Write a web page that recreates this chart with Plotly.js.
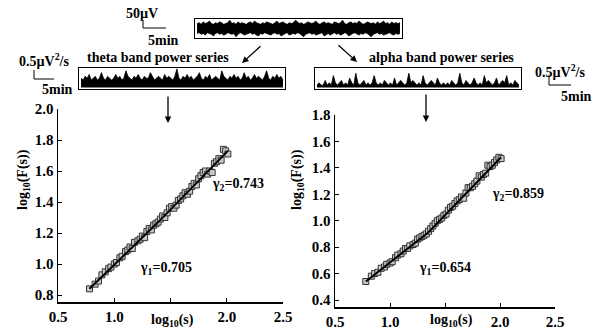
<!DOCTYPE html>
<html><head><meta charset="utf-8">
<script src="https://cdn.plot.ly/plotly-3.0.1.min.js"></script>
<style>html,body{margin:0;padding:0;background:#fff}#c{width:608px;height:328px}</style>
</head><body><div id="c"></div>
<script>
// ---- DFA data (theta band) ----
const thetaX = [0.78,0.83,0.86,0.89,0.92,0.95,0.97,1.00,1.02,1.05,1.07,1.10,1.12,1.14,1.16,1.18,1.21,1.23,1.25,1.27,1.29,1.31,1.33,1.35,1.37,1.39,1.41,1.43,1.45,1.47,1.49,1.51,1.53,1.55,1.57,1.59,1.61,1.63,1.65,1.67,1.69,1.71,1.73,1.75,1.77,1.79,1.81,1.83,1.85,1.87,1.89,1.91,1.93,1.95,1.97,1.99,2.01];
const thetaY = [0.84,0.87,0.89,0.93,0.95,0.97,0.98,1.00,1.01,1.04,1.05,1.08,1.09,1.11,1.10,1.14,1.15,1.16,1.18,1.17,1.21,1.23,1.22,1.25,1.26,1.27,1.29,1.31,1.30,1.33,1.36,1.37,1.36,1.38,1.41,1.42,1.44,1.46,1.45,1.47,1.50,1.52,1.51,1.55,1.57,1.59,1.60,1.58,1.60,1.59,1.65,1.66,1.68,1.67,1.74,1.73,1.71];
const thetaFit1X = [0.78,1.40], thetaFit1Y = [0.84,1.277];
const thetaFit2X = [1.40,2.01], thetaFit2Y = [1.277,1.73];
// ---- DFA data (alpha band) ----
const alphaX = thetaX;
const alphaY = [0.54,0.58,0.60,0.61,0.64,0.65,0.67,0.68,0.69,0.72,0.74,0.75,0.77,0.79,0.79,0.81,0.82,0.83,0.86,0.87,0.88,0.89,0.90,0.92,0.94,0.96,0.98,1.00,1.01,1.02,1.04,1.05,1.08,1.10,1.11,1.13,1.15,1.16,1.18,1.17,1.21,1.25,1.25,1.26,1.28,1.30,1.34,1.33,1.35,1.36,1.42,1.41,1.42,1.44,1.46,1.48,1.47];
const alphaFit1X = [0.78,1.35], alphaFit1Y = [0.54,0.913];
const alphaFit2X = [1.35,2.01], alphaFit2Y = [0.913,1.48];
// ---- signal envelopes ----
const rawUpper = [6,7,5,8,6,7,9,6,5,7,6,8,7,5,6,7,10,6,7,5,8,6,7,6,5,7,8,6,9,7,6,5,7,6,8,7,6,5,7,9,6,7,8,6,5,7,6,7,10,8,6,7,5,6,8,7,6,7,9,6,5,7,8,6,7,6,5,8,7,6,7,10,6,5,7,8,6,7,6,9,7,5,6,8,7,6,7,5,8,6,7,9,6,7,5,8,6,7,6,7];
const rawLower = [-6,-5,-7,-6,-8,-5,-6,-7,-9,-6,-5,-7,-6,-8,-7,-5,-6,-7,-6,-10,-7,-5,-6,-8,-7,-6,-5,-7,-6,-8,-9,-6,-7,-5,-6,-7,-8,-6,-5,-7,-6,-9,-7,-6,-5,-8,-7,-6,-7,-5,-6,-8,-10,-7,-6,-5,-7,-6,-8,-7,-6,-5,-9,-7,-6,-8,-6,-5,-7,-6,-8,-7,-5,-6,-9,-7,-6,-5,-7,-8,-6,-7,-5,-6,-8,-10,-7,-6,-5,-7,-6,-8,-7,-6,-5,-7,-8,-6,-7,-6];
const thetaEnv = [5,4,6,5,7,4,5,6,4,5,8,5,4,6,5,4,5,7,5,6,4,5,9,6,5,4,6,5,7,5,4,6,5,5,8,6,4,5,6,5,4,7,5,6,5,4,6,10,5,4,6,5,7,5,6,4,5,6,8,5,4,6,5,7,4,5,6,5,4,9,6,5,4,6,5,7,5,6,4,5,8,5,6,4,5,7,5,6,5,4,6,9,5,4,6,5,7,5,6,4];
const alphaEnv = [1,2,1,1,3,1,2,1,5,2,1,2,3,1,2,1,4,2,1,6,2,1,2,3,1,2,1,2,5,2,1,2,1,3,2,1,2,1,4,1,2,3,2,1,2,6,2,3,2,1,2,1,5,2,1,2,3,2,1,4,2,1,2,1,2,1,3,2,1,2,6,2,1,3,2,1,2,4,2,1,2,1,5,2,3,2,1,2,4,1,2,3,2,5,1,2,1,3,2,1];
const xTickVals = [0.5,1.0,1.5,2.0,2.5];
const xTickText = ['0.5','1.0','','2.0','2.5'];

const W = 608, H = 328;
const px = x => x / W, py = y => 1 - y / H;
const idx = a => a.map((_, i) => i);

const mk = {symbol:'square', size:6, color:'#c8c8c8', line:{color:'#333', width:1}};
const fitLine = {color:'#000', width:2};
const sl = {color:'#000', width:0.8};
const traces = [
  {x:thetaX, y:thetaY, mode:'markers', marker:mk, xaxis:'x', yaxis:'y'},
  {x:thetaFit1X, y:thetaFit1Y, mode:'lines', line:fitLine, xaxis:'x', yaxis:'y'},
  {x:thetaFit2X, y:thetaFit2Y, mode:'lines', line:fitLine, xaxis:'x', yaxis:'y'},
  {x:alphaX, y:alphaY, mode:'markers', marker:mk, xaxis:'x2', yaxis:'y2'},
  {x:alphaFit1X, y:alphaFit1Y, mode:'lines', line:fitLine, xaxis:'x2', yaxis:'y2'},
  {x:alphaFit2X, y:alphaFit2Y, mode:'lines', line:fitLine, xaxis:'x2', yaxis:'y2'},
  {x:idx(rawLower), y:rawLower, mode:'lines', line:sl, xaxis:'x3', yaxis:'y3'},
  {x:idx(rawUpper), y:rawUpper, mode:'lines', line:sl, fill:'tonexty', fillcolor:'#000', xaxis:'x3', yaxis:'y3'},
  {x:idx(thetaEnv), y:thetaEnv, mode:'lines', line:sl, fill:'tozeroy', fillcolor:'#000', xaxis:'x4', yaxis:'y4'},
  {x:idx(alphaEnv), y:alphaEnv, mode:'lines', line:sl, fill:'tozeroy', fillcolor:'#000', xaxis:'x5', yaxis:'y5'}
];

const mainAx = (dom, rng) => ({domain:dom, range:rng, showline:true, linecolor:'#000', linewidth:1.5,
  ticks:'inside', ticklen:4, tickcolor:'#000', showgrid:false, zeroline:false, fixedrange:true,
  tickfont:{size:15}});
const boxAx = (dom, rng, anchor) => ({domain:dom, range:rng, showline:true, mirror:true, linecolor:'#000', linewidth:1,
  showticklabels:false, ticks:'', showgrid:false, zeroline:false, anchor:anchor});

const layout = {
  width:W, height:H, margin:{l:0,r:0,t:0,b:0}, showlegend:false,
  paper_bgcolor:'#fff', plot_bgcolor:'rgba(0,0,0,0)',
  font:{family:'Liberation Serif, Times New Roman, serif', size:14, color:'#000', weight:'bold'},
  xaxis:Object.assign(mainAx([px(58), px(283)], [0.5,2.5]), {tickvals:xTickVals, ticktext:xTickText, anchor:'y'}),
  yaxis:Object.assign(mainAx([py(302), py(109)], [0.755,2.0]), {dtick:0.2, tick0:0, tickformat:'.1f', anchor:'x'}),
  xaxis2:Object.assign(mainAx([px(335), px(555)], [0.5,2.5]), {tickvals:xTickVals, ticktext:xTickText, anchor:'y2'}),
  yaxis2:Object.assign(mainAx([py(307), py(115)], [0.347,1.8]), {dtick:0.2, tick0:0, tickformat:'.1f', anchor:'x2'}),
  xaxis3:boxAx([px(195), px(402)], [-1, rawUpper.length], 'y3'),
  yaxis3:boxAx([py(38), py(19)], [-11.5, 11.5], 'x3'),
  xaxis4:boxAx([px(79), px(285)], [-1, thetaEnv.length], 'y4'),
  yaxis4:boxAx([py(89), py(68)], [-0.8, 10.5], 'x4'),
  xaxis5:boxAx([px(315), px(521)], [-1, alphaEnv.length], 'y5'),
  yaxis5:boxAx([py(89), py(68)], [-0.6, 8.2], 'x5'),
  shapes:[
    {type:'path', xref:'paper', yref:'paper', line:{color:'#000', width:1},
     path:`M ${px(143)} ${py(20)} L ${px(143)} ${py(28)} L ${px(166)} ${py(28)}`},
    {type:'path', xref:'paper', yref:'paper', line:{color:'#000', width:1},
     path:`M ${px(34)} ${py(70)} L ${px(34)} ${py(79)} L ${px(54)} ${py(79)}`},
    {type:'path', xref:'paper', yref:'paper', line:{color:'#000', width:1},
     path:`M ${px(549)} ${py(75)} L ${px(549)} ${py(85)} L ${px(571)} ${py(85)}`}
  ],
  annotations:[]
};

const txt = (x, y, t, extra) => Object.assign({xref:'paper', yref:'paper', x:px(x), y:py(y), text:t, showarrow:false,
  xanchor:'center', yanchor:'middle'}, extra || {});
const arr = (hx, hy, tx, ty) => ({xref:'paper', yref:'paper', x:px(hx), y:py(hy), ax:tx-hx, ay:ty-hy, text:'',
  showarrow:true, arrowhead:2, arrowsize:1, arrowwidth:1.3, arrowcolor:'#000'});

layout.annotations.push(
  txt(142, 13, '50µV'),
  txt(163, 40, '5min'),
  txt(44, 60, '0.5µV<sup>2</sup>/s'),
  txt(57, 89, '5min'),
  txt(158, 57, 'theta band power series'),
  txt(441, 58, 'alpha band power series'),
  txt(560, 71, '0.5µV<sup>2</sup>/s'),
  txt(576, 96, '5min'),
  txt(23, 180, 'log<sub>10</sub>(F(s))', {textangle:-90}),
  txt(297, 180, 'log<sub>10</sub>(F(s))', {textangle:-90}),
  txt(172, 320, 'log<sub>10</sub>(s)'),
  txt(451, 320, 'log<sub>10</sub>(s)'),
  txt(166, 268, 'γ<sub>1</sub>=0.705'),
  txt(238, 185, 'γ<sub>2</sub>=0.743'),
  txt(445, 268, 'γ<sub>1</sub>=0.654'),
  txt(518, 194, 'γ<sub>2</sub>=0.859'),
  arr(242, 63, 262, 45),
  arr(357, 62, 337, 44),
  arr(168, 123, 168, 95),
  arr(426, 122, 426, 93)
);

Plotly.newPlot('c', traces, layout, {staticPlot:true, displayModeBar:false});
</script>
</body></html>
